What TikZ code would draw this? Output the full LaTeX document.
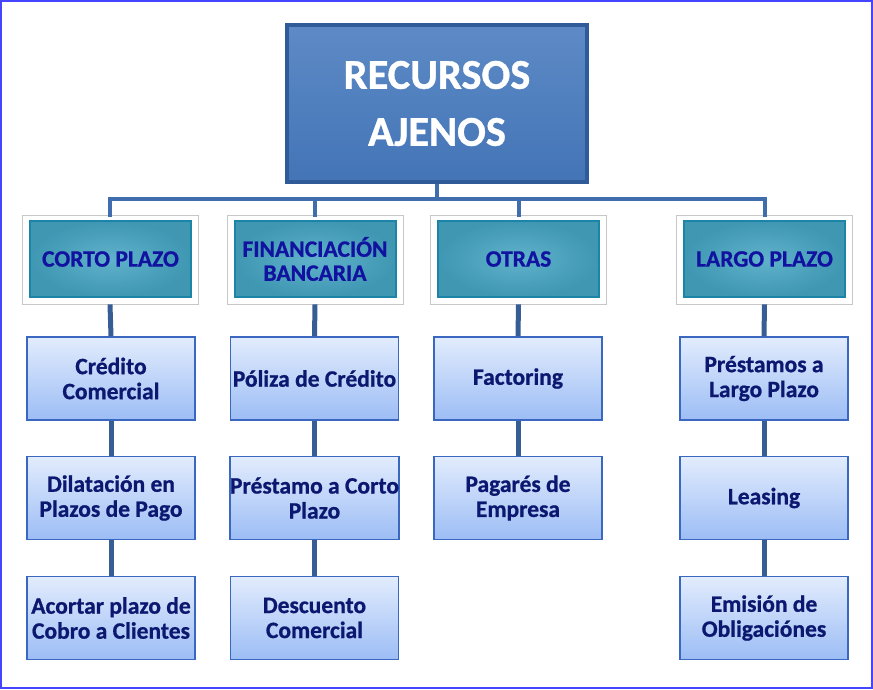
\documentclass[tikz,border=0pt]{standalone}
\usepackage{fontspec}
\setmainfont{Carlito}
\newfontfamily\heavy[FakeBold=0.8]{Carlito Bold}
\usetikzlibrary{positioning,calc}
\definecolor{topfill}{HTML}{4C7EC0}
\definecolor{topfilld}{HTML}{4374B6}
\definecolor{topedge}{HTML}{2F5C98}
\definecolor{tealfill}{HTML}{44A4C2}
\definecolor{tealedge}{HTML}{1C84A6}
\definecolor{lvltext}{HTML}{1212A0}
\definecolor{boxtop}{HTML}{E2ECFD}
\definecolor{boxbot}{HTML}{9CBDF5}
\definecolor{boxedge}{HTML}{3A68C0}
\definecolor{boxtext}{HTML}{0C1870}
\definecolor{linkcol}{HTML}{3F6DAE}
\definecolor{framecol}{HTML}{4545FF}
\tikzset{
  x=1pt, y=-1pt,
  topbox/.style={draw=topedge, line width=4pt, top color=topfill!90!white, bottom color=topfilld,
    minimum width=300pt, minimum height=157pt, inner sep=0pt,
    text=white, font=\fontsize{42.5}{57}\heavy, align=center},
  lvlframe/.style={draw=black!22, line width=0.8pt, fill=white, minimum width=176pt, minimum height=89pt, inner sep=0pt},
  lvlbox/.style={draw=tealedge, line width=2pt, inner color=tealfill!85!white, outer color=tealfill!92!black,
    minimum width=161pt, minimum height=76pt, inner sep=0pt,
    text=lvltext, font=\fontsize{23.5}{24}\heavy, align=center},
  itembox/.style={draw=boxedge, line width=1.6pt, top color=boxtop, bottom color=boxbot,
    minimum width=168pt, minimum height=83pt, inner sep=0pt,
    text=boxtext, font=\fontsize{23.5}{25}\heavy, align=center},
  link/.style={draw=linkcol, line width=4pt},
  vlink/.style={draw=linkcol!85!black, line width=5pt},
}
\begin{document}
\begin{tikzpicture}
\useasboundingbox (0,0) rectangle (873,689);
\draw[framecol, line width=2pt] (1,1) rectangle (872,688);

\node[topbox] (top) at (437,103.5) {RECURSOS\\AJENOS};

% level 2 frames and boxes
\node[lvlframe] (f1) at (110,259.5) {};
\node[lvlframe] (f2) at (315,259.5) {};
\node[lvlframe] (f3) at (518.5,259.5) {};
\node[lvlframe] (f4) at (764.5,259.5) {};
\node[lvlbox] (l1) at (110.5,259) {CORTO PLAZO};
\node[lvlbox] (l2) at (315,259) {FINANCIACIÓN\\BANCARIA};
\node[lvlbox] (l3) at (518.5,259) {OTRAS};
\node[lvlbox] (l4) at (764.5,259) {LARGO PLAZO};

% items
\node[itembox] (a1) at (111,378.5) {Crédito\\Comercial};
\node[itembox] (a2) at (111,498) {Dilatación en\\Plazos de Pago};
\node[itembox] (a3) at (111,618) {Acortar plazo de\\Cobro a Clientes};
\node[itembox] (b1) at (314.5,378.5) {Póliza de Crédito};
\node[itembox] (b2) at (314.5,498) {Préstamo a Corto\\Plazo};
\node[itembox] (b3) at (314.5,618) {Descuento\\Comercial};
\node[itembox] (c1) at (518,378.5) {Factoring};
\node[itembox] (c2) at (518,498) {Pagarés de\\Empresa};
\node[itembox] (d1) at (764,378.5) {Préstamos a\\Largo Plazo};
\node[itembox] (d2) at (764,498) {Leasing};
\node[itembox] (d3) at (764,618) {Emisión de\\Obligaciónes};

% bus
\coordinate (bus) at (437,199);
\draw[link] (top.south) -- (bus);
\draw[link] (bus) -| ([yshift=-2pt]f1.north);
\draw[link] (bus) -| ([yshift=-2pt]f2.north);
\draw[link] (bus) -| ([yshift=-2pt]f3.north);
\draw[link] (bus) -| ([yshift=-2pt]f4.north);

% vertical links
\draw[vlink] (f1.south) -- (a1.north);
\draw[vlink] (a1.south) -- (a2.north);
\draw[vlink] (a2.south) -- (a3.north);
\draw[vlink] (f2.south) -- (b1.north);
\draw[vlink] (b1.south) -- (b2.north);
\draw[vlink] (b2.south) -- (b3.north);
\draw[vlink] (f3.south) -- (c1.north);
\draw[vlink] (c1.south) -- (c2.north);
\draw[vlink] (f4.south) -- (d1.north);
\draw[vlink] (d1.south) -- (d2.north);
\draw[vlink] (d2.south) -- (d3.north);
\end{tikzpicture}
\end{document}
